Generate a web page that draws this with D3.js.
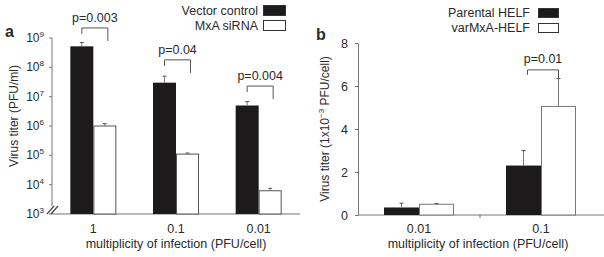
<!DOCTYPE html>
<html>
<head>
<meta charset="utf-8">
<script src="https://cdn.jsdelivr.net/npm/d3@7"></script>
<style>
body { margin: 0; background: #fff; }
text { font-family: "Liberation Sans", Arial, sans-serif; fill: #2a2a2a; }
.axis path, .axis line { stroke: #777; }
</style>
</head>
<body>
<div id="chart"></div>
<script>
// panel a
const catsA = ['1', '0.1', '0.01'];
const vectorA = [5.2e8, 3.0e7, 5.0e6];
const vectorErrA = [7.0e8, 5.0e7, 6.8e6];
const sirnaA = [1.0e6, 1.1e5, 6.2e3];
const sirnaErrA = [1.2e6, 1.2e5, 7.5e3];
const pA = ['p=0.003', 'p=0.04', 'p=0.004'];
const bracketA = [2.2e9, 1.8e8, 2.3e7];
const ticksA = [3, 4, 5, 6, 7, 8, 9];

// panel b
const catsB = ['0.01', '0.1'];
const parentalB = [0.35, 2.3];
const parentalErrB = [0.55, 3.0];
const varB = [0.5, 5.05];
const varErrB = [0.53, 6.35];
const pB = [null, 'p=0.01'];
const bracketB = [null, 6.75];
const ticksB = [0, 2, 4, 6, 8];

const svg = d3.select('#chart').append('svg')
    .attr('width', 604)
    .attr('height', 257);

// ---------- panel a ----------
const xA = d3.scaleBand().domain(catsA).range([52, 300]);
const yA = d3.scaleLog().domain([1e3, 1e9]).range([214, 38]);
const bwA = 23;

const gA = svg.append('g');

gA.append('line').attr('x1', 52).attr('x2', 52).attr('y1', yA(1e9)).attr('y2', 214)
    .attr('stroke', '#777');
gA.append('line').attr('x1', 52).attr('x2', 300).attr('y1', 214).attr('y2', 214)
    .attr('stroke', '#777');

ticksA.forEach(e => {
    const y = yA(Math.pow(10, e));
    gA.append('line').attr('x1', 49).attr('x2', 52).attr('y1', y).attr('y2', y).attr('stroke', '#777');
    const t = gA.append('text').attr('x', 44).attr('y', y + 4).attr('text-anchor', 'end')
        .style('font-size', '12px');
    t.append('tspan').text('10');
    t.append('tspan').attr('dy', -5).style('font-size', '8px').text(e);
});
// hide the break
gA.append('rect').attr('x', 47).attr('y', 206).attr('width', 10).attr('height', 6).attr('fill', '#fff');
[0, 4].forEach(o => {
    gA.append('line').attr('x1', 47 + o).attr('y1', 214 - o * 0 ).attr('x2', 54 + o).attr('y2', 206)
        .attr('stroke', '#444').attr('stroke-width', 1.2);
});

function errBar(g, x, y0, y1) {
    g.append('line').attr('x1', x).attr('x2', x).attr('y1', y0).attr('y2', y1).attr('stroke', '#777');
    g.append('line').attr('x1', x - 2).attr('x2', x + 2).attr('y1', y1).attr('y2', y1).attr('stroke', '#555');
}

catsA.forEach((c, i) => {
    const cx = xA(c) + xA.bandwidth() / 2;
    gA.append('rect').attr('x', cx - bwA).attr('y', yA(vectorA[i]))
        .attr('width', bwA).attr('height', 214 - yA(vectorA[i])).attr('fill', '#1c1a1a');
    gA.append('rect').attr('x', cx + 0.5).attr('y', yA(sirnaA[i]))
        .attr('width', bwA - 1).attr('height', 214 - yA(sirnaA[i])).attr('fill', '#fff')
        .attr('stroke', '#555');
    errBar(gA, cx - bwA / 2, yA(vectorA[i]), yA(vectorErrA[i]));
    errBar(gA, cx + bwA / 2, yA(sirnaA[i]), yA(sirnaErrA[i]));
    const by = yA(bracketA[i]);
    const lx = cx - bwA / 2, rx = cx + bwA / 2 + 3;
    gA.append('path').attr('d', `M${lx},${by + 6}V${by}H${rx}V${by + 13}`)
        .attr('fill', 'none').attr('stroke', '#555');
    gA.append('text').attr('x', (lx + rx) / 2).attr('y', by - 6).attr('text-anchor', 'middle')
        .style('font-size', '12.5px').text(pA[i]);
    gA.append('text').attr('x', cx).attr('y', 233).attr('text-anchor', 'middle')
        .style('font-size', '12.5px').text(c);
});

gA.append('text').attr('x', 176).attr('y', 248).attr('text-anchor', 'middle')
    .style('font-size', '12.5px').text('multiplicity of infection (PFU/cell)');
gA.append('text').attr('transform', 'translate(18,116) rotate(-90)').attr('text-anchor', 'middle')
    .style('font-size', '12px').text('Virus titer (PFU/ml)');
gA.append('text').attr('x', 5).attr('y', 37).style('font-size', '16px').style('font-weight', 'bold')
    .text('a');

// legend a
const legA = [['Vector control', '#1c1a1a'], ['MxA siRNA', '#fff']];
legA.forEach((d, i) => {
    gA.append('text').attr('x', 258).attr('y', 15 + i * 15).attr('text-anchor', 'end')
        .style('font-size', '12.5px').text(d[0]);
    gA.append('rect').attr('x', 263.5).attr('y', 5.5 + i * 15).attr('width', 22).attr('height', 10)
        .attr('fill', d[1]).attr('stroke', '#333');
});

// ---------- panel b ----------
const xB = d3.scaleBand().domain(catsB).range([358, 602]);
const yB = d3.scaleLinear().domain([0, 8]).range([215, 43]);
const bwB = 35;

const gB = svg.append('g');

const yAxisB = d3.axisLeft(yB).tickValues(ticksB).tickSize(3).tickSizeOuter(0).tickPadding(7);
gB.append('g').attr('class', 'axis').attr('transform', 'translate(358,0)').call(yAxisB)
    .call(g => g.selectAll('text').style('font-size', '12.5px').attr('fill', '#2a2a2a'));
gB.append('line').attr('x1', 358).attr('x2', 604).attr('y1', 215).attr('y2', 215).attr('stroke', '#777');
gB.append('line').attr('x1', xB('0.1')).attr('x2', xB('0.1')).attr('y1', 215).attr('y2', 218)
    .attr('stroke', '#777');

catsB.forEach((c, i) => {
    const cx = xB(c) + xB.bandwidth() / 2;
    gB.append('rect').attr('x', cx - bwB).attr('y', yB(parentalB[i]))
        .attr('width', bwB).attr('height', 215 - yB(parentalB[i])).attr('fill', '#1c1a1a');
    gB.append('rect').attr('x', cx + 0.5).attr('y', yB(varB[i]))
        .attr('width', bwB - 1).attr('height', 215 - yB(varB[i])).attr('fill', '#fff')
        .attr('stroke', '#777');
    errBar(gB, cx - bwB / 2, yB(parentalB[i]), yB(parentalErrB[i]));
    errBar(gB, cx + bwB / 2, yB(varB[i]), yB(varErrB[i]));
    if (pB[i]) {
        const by = yB(bracketB[i]);
        const lx = cx - bwB / 2 + 4, rx = cx + bwB / 2;
        gB.append('path').attr('d', `M${lx},${by + 5}V${by}H${rx}V${yB(varErrB[i])}`)
            .attr('fill', 'none').attr('stroke', '#555');
        gB.append('text').attr('x', (lx + rx) / 2).attr('y', by - 7).attr('text-anchor', 'middle')
            .style('font-size', '12.5px').text(pB[i]);
    }
    gB.append('text').attr('x', cx).attr('y', 233).attr('text-anchor', 'middle')
        .style('font-size', '12.5px').text(c);
});

gB.append('text').attr('x', 478).attr('y', 248).attr('text-anchor', 'middle')
    .style('font-size', '12.5px').text('multiplicity of infection (PFU/cell)');
const yl = gB.append('text').attr('transform', 'translate(329,129) rotate(-90)')
    .attr('text-anchor', 'middle').style('font-size', '12px');
yl.append('tspan').text('Virus titer (1x10');
yl.append('tspan').attr('dy', -5).style('font-size', '8px').text('\u22123');
yl.append('tspan').attr('dy', 5).text(' PFU/cell)');
gB.append('text').attr('x', 316).attr('y', 40).style('font-size', '16px').style('font-weight', 'bold')
    .text('b');

const legB = [['Parental HELF', '#1c1a1a'], ['varMxA-HELF', '#fff']];
legB.forEach((d, i) => {
    gB.append('text').attr('x', 530).attr('y', 17 + i * 15).attr('text-anchor', 'end')
        .style('font-size', '12.5px').text(d[0]);
    gB.append('rect').attr('x', 538.5).attr('y', 8.5 + i * 15).attr('width', 20).attr('height', 9)
        .attr('fill', d[1]).attr('stroke', '#333');
});
</script>
</body>
</html>
